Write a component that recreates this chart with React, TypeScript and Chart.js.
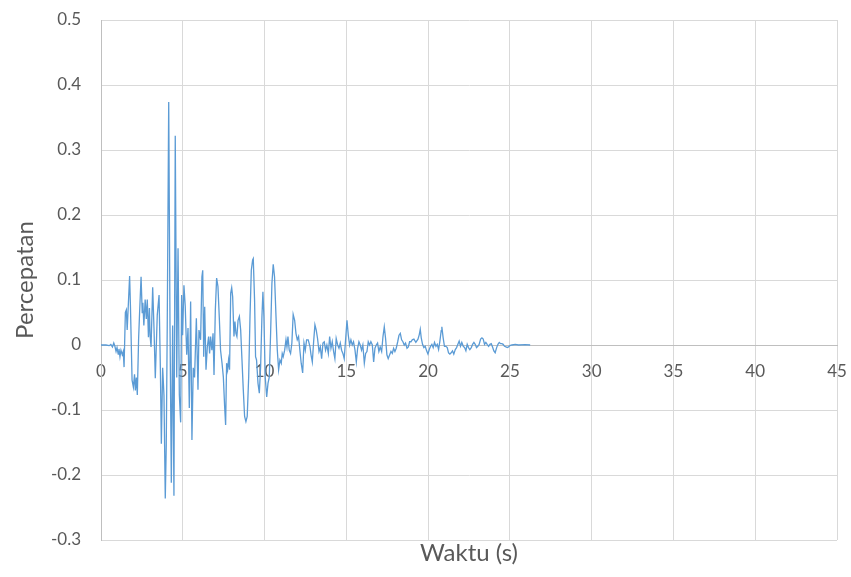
import { useEffect, useRef } from "react";
import { Chart, registerables } from "chart.js";

Chart.register(...registerables);

// Time (s)
const timeS: number[] = [
  0, 0.3, 0.5, 0.6, 0.7, 0.78, 0.85, 0.92, 0.98, 1.05, 1.1, 1.16, 1.22, 1.3, 1.36, 1.41,
  1.49, 1.55, 1.6, 1.75, 1.8, 1.9, 1.98, 2.05, 2.1, 2.16, 2.22, 2.3, 2.36, 2.45, 2.52, 2.56,
  2.62, 2.7, 2.77, 2.83, 2.9, 2.96, 3.0, 3.06, 3.16, 3.24, 3.32, 3.44, 3.55, 3.63, 3.69, 3.77,
  3.85, 3.93, 3.99, 4.05, 4.14, 4.22, 4.3, 4.38, 4.46, 4.54, 4.63, 4.71, 4.79, 4.87, 4.93, 4.99,
  5.07, 5.15, 5.24, 5.32, 5.4, 5.48, 5.56, 5.64, 5.72, 5.83, 5.93, 5.99, 6.09, 6.17, 6.22, 6.28,
  6.34, 6.42, 6.5, 6.58, 6.64, 6.7, 6.78, 6.85, 6.91, 6.99, 7.07, 7.15, 7.23, 7.31, 7.4, 7.48,
  7.56, 7.62, 7.68, 7.74, 7.8, 7.86, 7.93, 7.99, 8.05, 8.13, 8.19, 8.25, 8.31, 8.38, 8.46, 8.54,
  8.62, 8.7, 8.78, 8.86, 8.94, 9.03, 9.11, 9.19, 9.27, 9.31, 9.39, 9.45, 9.51, 9.6, 9.68, 9.76,
  9.84, 9.9, 9.96, 10.04, 10.13, 10.21, 10.29, 10.37, 10.45, 10.53, 10.61, 10.7, 10.78, 10.86, 10.94, 11.02,
  11.08, 11.14, 11.23, 11.31, 11.37, 11.43, 11.51, 11.59, 11.67, 11.75, 11.84, 11.92, 12.0, 12.08, 12.16, 12.24,
  12.33, 12.41, 12.49, 12.57, 12.67, 12.78, 12.84, 12.92, 13.0, 13.08, 13.16, 13.24, 13.33, 13.41, 13.49, 13.57,
  13.65, 13.73, 13.81, 13.9, 13.98, 14.06, 14.14, 14.22, 14.3, 14.38, 14.47, 14.55, 14.63, 14.71, 14.79, 14.87,
  14.96, 15.04, 15.12, 15.2, 15.28, 15.36, 15.44, 15.53, 15.61, 15.69, 15.77, 15.85, 15.93, 16.01, 16.1, 16.18,
  16.26, 16.34, 16.42, 16.5, 16.59, 16.67, 16.75, 16.83, 16.91, 16.99, 17.07, 17.16, 17.24, 17.32, 17.4, 17.48,
  17.56, 17.65, 17.73, 17.81, 17.89, 17.97, 18.05, 18.14, 18.22, 18.3, 18.38, 18.46, 18.54, 18.62, 18.71, 18.79,
  18.87, 18.95, 19.03, 19.13, 19.25, 19.38, 19.46, 19.52, 19.58, 19.66, 19.74, 19.82, 19.91, 19.99, 20.07, 20.15,
  20.23, 20.31, 20.39, 20.48, 20.56, 20.64, 20.72, 20.8, 20.84, 20.92, 21.0, 21.09, 21.17, 21.25, 21.33, 21.41,
  21.49, 21.57, 21.66, 21.74, 21.82, 21.9, 21.98, 22.06, 22.15, 22.23, 22.31, 22.39, 22.47, 22.55, 22.64, 22.72,
  22.8, 22.88, 22.96, 23.04, 23.12, 23.21, 23.29, 23.37, 23.45, 23.53, 23.61, 23.7, 23.78, 23.86, 23.94, 24.02,
  24.1, 24.19, 24.27, 24.35, 24.43, 24.51, 24.59, 24.67, 24.76, 24.84, 24.92, 25.0, 25.12, 25.33, 25.53, 25.94,
  26.24,
];

// Acceleration (Percepatan)
const accel: number[] = [
  0, 0, -0.001, 0.001, -0.003, 0.003, -0.002, -0.01, -0.004, -0.014, -0.006, -0.018, -0.008, -0.015, -0.01, -0.034,
  0.05, 0.054, 0.023, 0.106, 0.06, -0.054, -0.065, -0.045, -0.07, -0.05, -0.077, 0.01, 0.05, 0.105, 0.05, 0.065,
  0.03, 0.07, 0.04, 0.07, 0.012, 0.057, 0.015, -0.003, 0.089, 0.026, -0.051, 0.046, 0.077, -0.036, -0.152, -0.035,
  -0.077, -0.236, -0.154, 0.03, 0.374, 0.026, -0.212, 0.03, -0.232, 0.322, -0.05, 0.149, -0.077, -0.119, 0.077, 0.015,
  0.092, 0.06, -0.015, 0.026, -0.097, 0.067, -0.146, -0.035, -0.05, 0.041, -0.069, 0.023, 0.008, 0.105, 0.115, -0.018,
  0.059, -0.038, -0.003, 0.013, -0.013, 0.013, -0.008, 0.018, -0.046, 0.054, 0.103, 0.09, 0.044, -0.008, -0.028, -0.049,
  -0.095, -0.123, -0.028, -0.038, -0.023, -0.038, 0.08, 0.088, 0.074, 0.013, 0.036, 0.018, 0.013, 0.038, 0.044, 0.023,
  -0.023, -0.069, -0.11, -0.118, -0.11, -0.049, 0.044, 0.115, 0.131, 0.133, 0.069, -0.018, -0.023, -0.059, -0.074, -0.033,
  0.044, 0.082, 0.044, -0.049, -0.08, -0.059, -0.049, 0.018, 0.095, 0.124, 0.105, 0.044, -0.008, -0.038, -0.023, -0.028,
  -0.013, -0.018, -0.008, 0.008, -0.003, 0.013, -0.008, -0.013, 0.003, 0.047, 0.038, 0.018, 0.008, 0.013, -0.008, -0.028,
  -0.043, 0.003, -0.008, 0.008, 0.008, -0.003, -0.015, -0.026, 0.005, 0.031, 0.023, 0.01, -0.01, -0.003, -0.021, 0.003,
  0.005, -0.008, 0, -0.013, 0.013, -0.005, 0.005, -0.01, -0.021, 0.01, 0, -0.005, 0.003, -0.008, -0.013, -0.021,
  0.01, 0.038, 0.015, 0, 0.008, 0, 0.005, -0.008, -0.026, -0.005, 0.005, 0, -0.008, 0, -0.028, -0.013,
  -0.01, 0.005, 0, 0.005, 0, -0.026, -0.005, 0, 0.003, -0.01, -0.003, -0.01, 0.013, 0.028, 0.01, -0.015,
  -0.021, -0.015, -0.01, -0.013, -0.005, -0.01, -0.005, 0.005, 0.015, 0.018, 0.008, 0.005, 0, 0.003, -0.005, -0.003,
  0.005, 0.005, 0.008, 0.009, 0.004, 0.009, 0.016, 0.024, 0.011, 0.001, -0.004, -0.002, -0.009, -0.014, -0.007, -0.002,
  0.001, -0.004, 0.004, -0.002, 0.001, -0.007, 0.006, 0.022, 0.028, 0.011, -0.002, -0.002, -0.004, -0.012, -0.014, -0.012,
  -0.009, -0.014, -0.007, -0.004, 0.001, 0.006, -0.002, 0.004, -0.002, -0.004, -0.009, 0.001, -0.004, -0.007, -0.004, 0.001,
  0.004, 0.001, -0.004, -0.002, 0.001, 0.009, 0.011, 0.009, 0.001, 0.004, 0.001, -0.002, 0.001, 0.002, -0.003, -0.009,
  -0.012, -0.004, 0.001, 0.004, 0.002, 0.002, 0.001, -0.002, -0.003, -0.004, -0.003, -0.001, 0, 0.001, 0, 0.0005,
  0,
];

const xMin = 0;
const xMax = 45;
const xStep = 5;
const yMin = -0.3;
const yMax = 0.5;
const yStep = 0.1;

const xTitleText = "Waktu (s)";
const yTitleText = "Percepatan";

const TEXT = "#595959";
const GRID = "#d9d9d9";
const AXIS = "#bfbfbf";
const LINE = "#5b9bd5";
const FONT = "Lato, 'Liberation Sans', sans-serif";

const zeroPadding = (scale: any) => {
  scale.paddingLeft = 0;
  scale.paddingRight = 0;
  scale.paddingTop = 0;
  scale.paddingBottom = 0;
};

export default function App() {
  const ref = useRef<HTMLCanvasElement>(null);

  useEffect(() => {
    document.body.style.margin = "0";
    const canvas = ref.current;
    if (!canvas) return;
    const points = timeS.map((t, i) => ({ x: t, y: accel[i] }));
    const chart = new Chart(canvas, {
      type: "line",
      data: {
        datasets: [
          {
            data: points,
            borderColor: LINE,
            borderWidth: 1.3,
            pointRadius: 0,
            tension: 0,
            fill: false,
          },
        ],
      },
      options: {
        animation: false,
        responsive: false,
        layout: { padding: { top: 20, right: 14, left: 0, bottom: 0 } },
        plugins: {
          legend: { display: false },
          tooltip: { enabled: false },
        },
        scales: {
          x: {
            type: "linear",
            position: { y: 0 },
            min: xMin,
            max: xMax,
            ticks: {
              stepSize: xStep,
              color: TEXT,
              font: { family: FONT, size: 17 },
              padding: 16,
              maxRotation: 0,
            },
            grid: { color: GRID, drawTicks: false, lineWidth: 1 },
            border: { color: AXIS, width: 1 },
            afterFit: zeroPadding,
          },
          xTitle: {
            type: "linear",
            position: "bottom",
            min: xMin,
            max: xMax,
            ticks: { display: false },
            grid: { display: false, drawTicks: false },
            border: { display: false },
            title: {
              display: true,
              text: xTitleText,
              color: TEXT,
              font: { family: FONT, size: 24, lineHeight: 1 },
              padding: { top: 1, bottom: 12 },
            },
            afterFit: (scale: any) => {
              zeroPadding(scale);
              scale.height = 37;
            },
          },
          y: {
            type: "linear",
            min: yMin,
            max: yMax,
            ticks: {
              stepSize: yStep,
              color: TEXT,
              font: { family: FONT, size: 17 },
              padding: 20,
            },
            grid: { color: GRID, drawTicks: false, lineWidth: 1 },
            border: { color: AXIS, width: 1 },
            title: {
              display: true,
              text: yTitleText,
              color: TEXT,
              font: { family: FONT, size: 24, lineHeight: 1 },
              padding: { top: 13, bottom: 0 },
            },
            afterFit: (scale: any) => {
              zeroPadding(scale);
              scale.width = 101;
            },
          },
        },
      },
    });
    return () => chart.destroy();
  }, []);

  return <canvas ref={ref} width={851} height={577} style={{ display: "block" }} />;
}
